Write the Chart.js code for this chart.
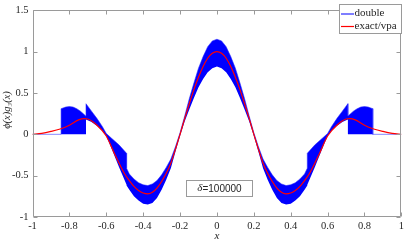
<!DOCTYPE html>
<html><head><meta charset="utf-8">
<script src="https://cdn.jsdelivr.net/npm/chart.js@4.4.1/dist/chart.umd.min.js"></script>
<style>html,body{margin:0;padding:0;background:#fff;overflow:hidden}#wrap{width:407px;height:242px;position:relative}</style>
</head><body><div id="wrap"><canvas id="c" width="407" height="242"></canvas></div>
<script>
// ---- data ----
const xTicks = [-1, -0.8, -0.6, -0.4, -0.2, 0, 0.2, 0.4, 0.6, 0.8, 1];
const yTicks = [-1, -0.5, 0, 0.5, 1, 1.5];
const seriesNames = ['double', 'exact/vpa'];
const xTitle = 'x';
const yTitle = 'ϕ(x)g₃(x)';
const annotationSymbol = 'δ';
const annotationValue = '=100000';

// exact / vpa curve
const exactX = [-1, -0.95, -0.9, -0.85, -0.8, -0.75, -0.72, -0.7, -0.65, -0.6, -0.55, -0.5, -0.475, -0.45, -0.425, -0.4, -0.375, -0.35, -0.325, -0.3, -0.275, -0.25, -0.225, -0.2, -0.175, -0.15, -0.125, -0.1, -0.075, -0.05, -0.025, 0,
                0.025, 0.05, 0.075, 0.1, 0.125, 0.15, 0.175, 0.2, 0.225, 0.25, 0.275, 0.3, 0.325, 0.35, 0.375, 0.4, 0.425, 0.45, 0.475, 0.5, 0.55, 0.6, 0.65, 0.7, 0.72, 0.75, 0.8, 0.85, 0.9, 0.95, 1];
const exactY = [0, 0.012, 0.035, 0.065, 0.11, 0.175, 0.19, 0.185, 0.11, -0.02, -0.26, -0.48, -0.56, -0.63, -0.68, -0.71, -0.72, -0.70, -0.65, -0.57, -0.47, -0.35, -0.18, 0.0, 0.19, 0.37, 0.54, 0.69, 0.82, 0.92, 0.98, 1.0,
                0.98, 0.92, 0.82, 0.69, 0.54, 0.37, 0.19, 0.0, -0.18, -0.35, -0.47, -0.57, -0.65, -0.70, -0.72, -0.71, -0.68, -0.63, -0.56, -0.48, -0.26, -0.02, 0.11, 0.185, 0.19, 0.175, 0.11, 0.065, 0.035, 0.012, 0];

// double-precision result: band of rapid oscillation (upper / lower envelope)
const bandX = [-1, -0.845, -0.845, -0.82, -0.8, -0.78, -0.76, -0.74, -0.72, -0.71, -0.71, -0.68, -0.65, -0.62, -0.6, -0.57, -0.53, -0.49, -0.49, -0.475, -0.45, -0.425, -0.4, -0.375, -0.35, -0.325, -0.3, -0.275, -0.25, -0.225, -0.2, -0.175, -0.15, -0.125, -0.1, -0.075, -0.05, -0.025, 0,
               0.025, 0.05, 0.075, 0.1, 0.125, 0.15, 0.175, 0.2, 0.225, 0.25, 0.275, 0.3, 0.325, 0.35, 0.375, 0.4, 0.425, 0.45, 0.475, 0.49, 0.49, 0.53, 0.57, 0.6, 0.62, 0.65, 0.68, 0.71, 0.71, 0.72, 0.74, 0.76, 0.78, 0.8, 0.82, 0.845, 0.845, 1];
const bandUpper = [0, 0, 0.31, 0.33, 0.335, 0.33, 0.31, 0.28, 0.24, 0.22, 0.37, 0.28, 0.19, 0.09, 0.01, -0.05, -0.13, -0.23, -0.41, -0.48, -0.54, -0.585, -0.61, -0.62, -0.60, -0.56, -0.49, -0.40, -0.30, -0.15, 0.02, 0.22, 0.43, 0.62, 0.80, 0.94, 1.06, 1.13, 1.15,
                   1.13, 1.06, 0.94, 0.80, 0.62, 0.43, 0.22, 0.02, -0.15, -0.30, -0.40, -0.49, -0.56, -0.60, -0.62, -0.61, -0.585, -0.54, -0.48, -0.41, -0.23, -0.13, -0.05, 0.01, 0.09, 0.19, 0.28, 0.37, 0.22, 0.24, 0.28, 0.31, 0.33, 0.335, 0.33, 0.31, 0, 0];
const bandLower = [0, 0, 0, 0, 0, 0, 0, 0, 0, 0, 0.18, 0.15, 0.1, 0.04, -0.02, -0.18, -0.4, -0.61, -0.62, -0.67, -0.75, -0.80, -0.84, -0.85, -0.83, -0.77, -0.67, -0.55, -0.41, -0.21, -0.02, 0.155, 0.30, 0.44, 0.57, 0.67, 0.75, 0.80, 0.82,
                   0.80, 0.75, 0.67, 0.57, 0.44, 0.30, 0.155, -0.02, -0.21, -0.41, -0.55, -0.67, -0.77, -0.83, -0.85, -0.84, -0.80, -0.75, -0.67, -0.62, -0.61, -0.4, -0.18, -0.02, 0.04, 0.1, 0.15, 0.18, 0, 0, 0, 0, 0, 0, 0, 0, 0, 0];

// ---- chart ----
const pts = (xs, ys) => xs.map((x, i) => ({x: x, y: ys[i]}));
const TXT = '#262626', AX = '#9a9a9a';
const SERIF = '"Liberation Serif", "DejaVu Serif", serif';
const SANS = '"Liberation Sans", Arial, sans-serif';

const decor = {
  id: 'decor',
  afterDraw(chart) {
    const ctx = chart.ctx, a = chart.chartArea, sx = chart.scales.x, sy = chart.scales.y;
    const L = Math.round(a.left) + 0.5, R = Math.round(a.right) - 0.5, T = Math.round(a.top) + 0.5, B = Math.round(a.bottom) - 0.5;
    ctx.save();
    ctx.strokeStyle = AX; ctx.lineWidth = 1;
    ctx.beginPath();
    ctx.rect(L, T, R - L, B - T);
    xTicks.forEach(v => { const p = Math.round(sx.getPixelForValue(v)) + 0.5;
      ctx.moveTo(p, B); ctx.lineTo(p, B - 4); ctx.moveTo(p, T); ctx.lineTo(p, T + 4); });
    yTicks.forEach(v => { const p = Math.round(sy.getPixelForValue(v)) + 0.5;
      ctx.moveTo(L, p); ctx.lineTo(L + 4, p); ctx.moveTo(R, p); ctx.lineTo(R - 4, p); });
    ctx.stroke();

    // legend
    ctx.fillStyle = '#fff';
    ctx.fillRect(339.5, 4.5, 62, 29);
    ctx.strokeStyle = AX;
    ctx.strokeRect(339.5, 4.5, 62, 29);
    ctx.lineWidth = 2; ctx.strokeStyle = 'rgba(40,40,255,0.6)';
    ctx.beginPath(); ctx.moveTo(341, 14); ctx.lineTo(354, 14); ctx.stroke();
    ctx.lineWidth = 1.2; ctx.strokeStyle = '#ff0000';
    ctx.beginPath(); ctx.moveTo(341, 26.5); ctx.lineTo(354, 26.5); ctx.stroke();
    ctx.fillStyle = TXT; ctx.font = '11px ' + SERIF; ctx.textBaseline = 'middle'; ctx.textAlign = 'left';
    ctx.fillText(seriesNames[0], 354.5, 13.5);
    ctx.fillText(seriesNames[1], 354.5, 26);

    // annotation
    ctx.fillStyle = '#fff';
    ctx.fillRect(186.5, 180.5, 66, 16);
    ctx.lineWidth = 1; ctx.strokeStyle = AX;
    ctx.strokeRect(186.5, 180.5, 66, 16);
    ctx.font = 'italic 11px ' + SERIF; const w1 = ctx.measureText(annotationSymbol).width;
    ctx.font = '10px ' + SANS; const w2 = ctx.measureText(annotationValue).width;
    let x0 = 219.5 - (w1 + w2) / 2;
    ctx.fillStyle = TXT;
    ctx.font = 'italic 11px ' + SERIF; ctx.fillText(annotationSymbol, x0, 188.5);
    ctx.font = '10px ' + SANS; ctx.fillText(annotationValue, x0 + w1, 189);

    // axis titles
    ctx.textAlign = 'center';
    ctx.font = 'italic 11px ' + SERIF;
    ctx.fillText(xTitle, (a.left + a.right) / 2, 236.5);
    ctx.translate(7.5, 110);
    ctx.rotate(-Math.PI / 2);
    ctx.font = 'italic 10.5px ' + SERIF;
    ctx.fillText(yTitle, 0, 0);
    ctx.restore();
  }
};

new Chart(document.getElementById('c'), {
  type: 'line',
  data: {
    datasets: [
      { label: seriesNames[1], data: pts(exactX, exactY), borderColor: '#ff0000', borderWidth: 1.2,
        pointRadius: 0, fill: false, cubicInterpolationMode: 'monotone', order: 0 },
      { label: seriesNames[0], data: pts(bandX, bandUpper), borderColor: 'rgba(40,40,255,0.55)', borderWidth: 1,
        backgroundColor: '#0000ff', pointRadius: 0, tension: 0, fill: '+1', order: 1 },
      { label: seriesNames[0] + ' (lower)', data: pts(bandX, bandLower), borderColor: 'rgba(0,0,255,0)', borderWidth: 0,
        pointRadius: 0, tension: 0, fill: false, order: 2 }
    ]
  },
  options: {
    responsive: false, animation: false, devicePixelRatio: 1,
    layout: { padding: { left: 0, right: 3, top: 5, bottom: 0 } },
    plugins: { legend: { display: false }, tooltip: { enabled: false }, filler: { propagate: false } },
    scales: {
      x: { type: 'linear', min: -1, max: 1,
        grid: { display: false, drawTicks: false }, border: { display: false },
        ticks: { font: { family: SERIF, size: 10.5 }, color: TXT, padding: 3, maxRotation: 0, autoSkip: false,
          callback: v => String(v) },
        afterBuildTicks: s => { s.ticks = xTicks.map(v => ({ value: v })); },
        afterFit: s => { s.height = 25; } },
      y: { type: 'linear', min: -1, max: 1.5,
        grid: { display: false, drawTicks: false }, border: { display: false },
        ticks: { font: { family: SERIF, size: 10.5 }, color: TXT, padding: 4, autoSkip: false,
          callback: v => String(v) },
        afterBuildTicks: s => { s.ticks = yTicks.map(v => ({ value: v })); },
        afterFit: s => { s.width = 32.5; } }
    }
  },
  plugins: [decor]
});
</script></body></html>
